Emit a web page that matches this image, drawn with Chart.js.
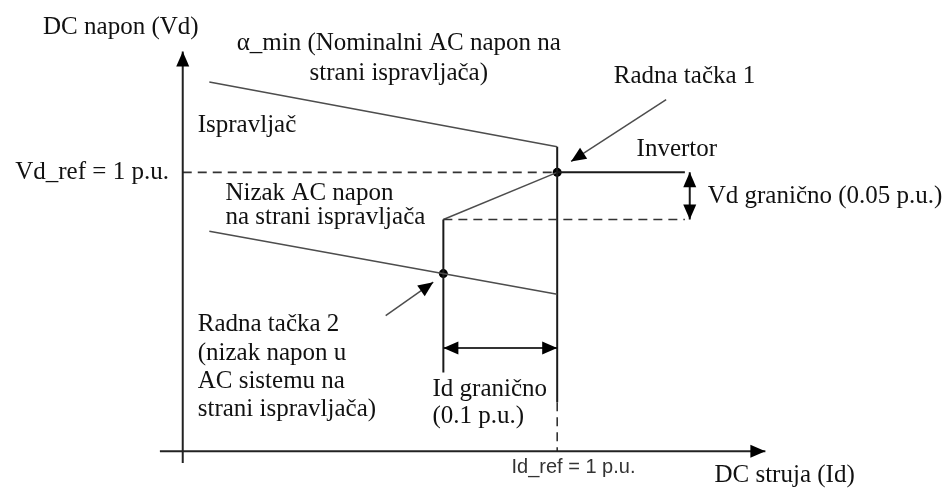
<!DOCTYPE html>
<html lang="sr">
<head>
  <meta charset="UTF-8">
  <title>Upravljačke karakteristike HVDC</title>
  <script src="https://cdn.jsdelivr.net/npm/chart.js"></script>
  <style>
    html, body { margin: 0; padding: 0; background: #fff; }
    #wrap { width: 950px; height: 490px; position: relative; }
  </style>
</head>
<body>
  <div id="wrap"><canvas id="vdChart"></canvas></div>

  <script>
    // Id u p.u. (x), Vd u p.u. (y) - skica, nije u razmjeri
    const axisX = [-0.061, 1.556];          // Id osa
    const axisY = [-0.042, 1.433];          // Vd osa
    const rectNomId = [0.071, 1.0];         // alfa_min, nominalni AC napon
    const rectNomVd = [1.324, 1.092];
    const rectLowId = [0.071, 1.0];         // nizak AC napon na strani ispravljaca
    const rectLowVd = [0.789, 0.563];
    const rectCcVd = [1.092, 0.176];        // strujna regulacija ispravljaca (Id_ref)
    const invCcVd = [0.282, 0.831];         // strujna regulacija invertora (Id_ref - 0.1)
    const invId = [0.696, 1.0, 1.341];      // karakteristika invertora
    const invVd = [0.831, 1.0, 1.0];
    const idRef = 1.0;
    const vdRef = 1.0;
    const idMargin = 0.696;
    const vdMargin = 0.831;
    const opId = [1.0, 0.696];              // radne tacke 1 i 2
    const opVd = [1.0, 0.637];

    const pts = (xs, ys) => xs.map((x, i) => ({ x: x, y: ys[i] }));
    const black = '#1a1a1a';
    const gray = '#4d4d4d';

    function seg(data, color, width, extra) {
      return Object.assign({
        type: 'line', data: data, borderColor: color, borderWidth: width,
        pointRadius: 0, fill: false, tension: 0
      }, extra || {});
    }

    const datasets = [
      seg(pts(axisX, [0, 0]), '#222', 2, { arrows: 'end' }),
      seg(pts([0, 0], axisY), '#222', 2, { arrows: 'end' }),
      seg(pts([0, idRef], [vdRef, vdRef]), '#333', 1.6, { borderDash: [9, 6] }),
      seg(pts([idMargin, 1.341], [vdMargin, vdMargin]), '#333', 1.6, { borderDash: [9, 6] }),
      seg(pts([idRef, idRef], [rectCcVd[1], 0]), '#333', 1.6, { borderDash: [9, 6] }),
      seg(pts(rectNomId, rectNomVd), gray, 1.5),
      seg(pts(rectLowId, rectLowVd), gray, 1.5),
      seg(pts([idRef, idRef], rectCcVd), black, 2),
      seg(pts([idMargin, idMargin], invCcVd), black, 2),
      seg(pts(invId.slice(0, 2), invVd.slice(0, 2)), gray, 1.5),
      seg(pts(invId.slice(1), invVd.slice(1)), black, 2),
      // strelice: margine i pokazivaci radnih tacaka
      seg(pts([1.354, 1.354], [vdRef, vdMargin]), black, 2, { arrows: 'both' }),
      seg(pts([idMargin, idRef], [0.37, 0.37]), '#333', 2, { arrows: 'both' }),
      seg(pts([1.291, 1.037], [1.261, 1.039]), gray, 1.5, { arrows: 'end' }),
      seg(pts([0.542, 0.669], [0.486, 0.606]), gray, 1.5, { arrows: 'end' }),
      {
        type: 'scatter', data: pts(opId, opVd), pointRadius: 4.5,
        pointBackgroundColor: '#000', pointBorderWidth: 0
      }
    ];

    const serif = '25px "Liberation Serif", "Times New Roman", serif';
    const labels = [
      { t: 'DC napon (Vd)', x: -0.373, y: 1.518 },
      { t: 'α_min (Nominalni AC napon na', x: 0.577, y: 1.461, align: 'center' },
      { t: 'strani ispravljača)', x: 0.577, y: 1.356, align: 'center' },
      { t: 'Ispravljač', x: 0.040, y: 1.169 },
      { t: 'Vd_ref = 1 p.u.', x: -0.037, y: 1.0, align: 'right' },
      { t: 'Nizak AC napon', x: 0.114, y: 0.923 },
      { t: 'na strani ispravljača', x: 0.114, y: 0.838 },
      { t: 'Radna tačka 1', x: 1.151, y: 1.345 },
      { t: 'Invertor', x: 1.212, y: 1.081 },
      { t: 'Vd granično (0.05 p.u.)', x: 1.402, y: 0.912 },
      { t: 'Radna tačka 2', x: 0.040, y: 0.454 },
      { t: '(nizak napon u', x: 0.040, y: 0.352 },
      { t: 'AC sistemu na', x: 0.040, y: 0.250 },
      { t: 'strani ispravljača)', x: 0.040, y: 0.151 },
      { t: 'Id granično', x: 0.667, y: 0.222 },
      { t: '(0.1 p.u.)', x: 0.667, y: 0.123 },
      { t: 'Id_ref = 1 p.u.', x: 0.878, y: -0.060, font: '20px "Liberation Sans", Arial, sans-serif', color: '#333' },
      { t: 'DC struja (Id)', x: 1.42, y: -0.088 }
    ];

    function head(ctx, from, to, len, half, color) {
      const a = Math.atan2(to.y - from.y, to.x - from.x);
      ctx.save();
      ctx.fillStyle = color;
      ctx.translate(to.x, to.y);
      ctx.rotate(a);
      ctx.beginPath();
      ctx.moveTo(0, 0);
      ctx.lineTo(-len, -half);
      ctx.lineTo(-len, half);
      ctx.closePath();
      ctx.fill();
      ctx.restore();
    }

    const overlay = {
      id: 'overlay',
      afterDatasetsDraw(chart) {
        const ctx = chart.ctx;
        const sx = chart.scales.x, sy = chart.scales.y;
        const px = p => ({ x: sx.getPixelForValue(p.x), y: sy.getPixelForValue(p.y) });
        chart.data.datasets.forEach(ds => {
          if (!ds.arrows) return;
          const d = ds.data.map(px);
          const n = d.length;
          head(ctx, d[n - 2], d[n - 1], 15, 6.5, '#000');
          if (ds.arrows === 'both') head(ctx, d[1], d[0], 15, 6.5, '#000');
        });
        ctx.save();
        ctx.textBaseline = 'middle';
        labels.forEach(l => {
          const p = px(l);
          ctx.font = l.font || serif;
          ctx.fillStyle = l.color || '#111';
          ctx.textAlign = l.align || 'left';
          ctx.fillText(l.t, p.x, p.y);
        });
        ctx.restore();
      }
    };

    new Chart(document.getElementById('vdChart'), {
      type: 'scatter',
      data: { datasets: datasets },
      options: {
        responsive: true,
        maintainAspectRatio: false,
        animation: false,
        layout: { padding: 0 },
        plugins: { legend: { display: false }, tooltip: { enabled: false } },
        scales: {
          x: { type: 'linear', display: false, min: -0.476, max: 2.037 },
          y: { type: 'linear', display: false, min: -0.123, max: 1.602 }
        }
      },
      plugins: [overlay]
    });
  </script>
</body>
</html>
